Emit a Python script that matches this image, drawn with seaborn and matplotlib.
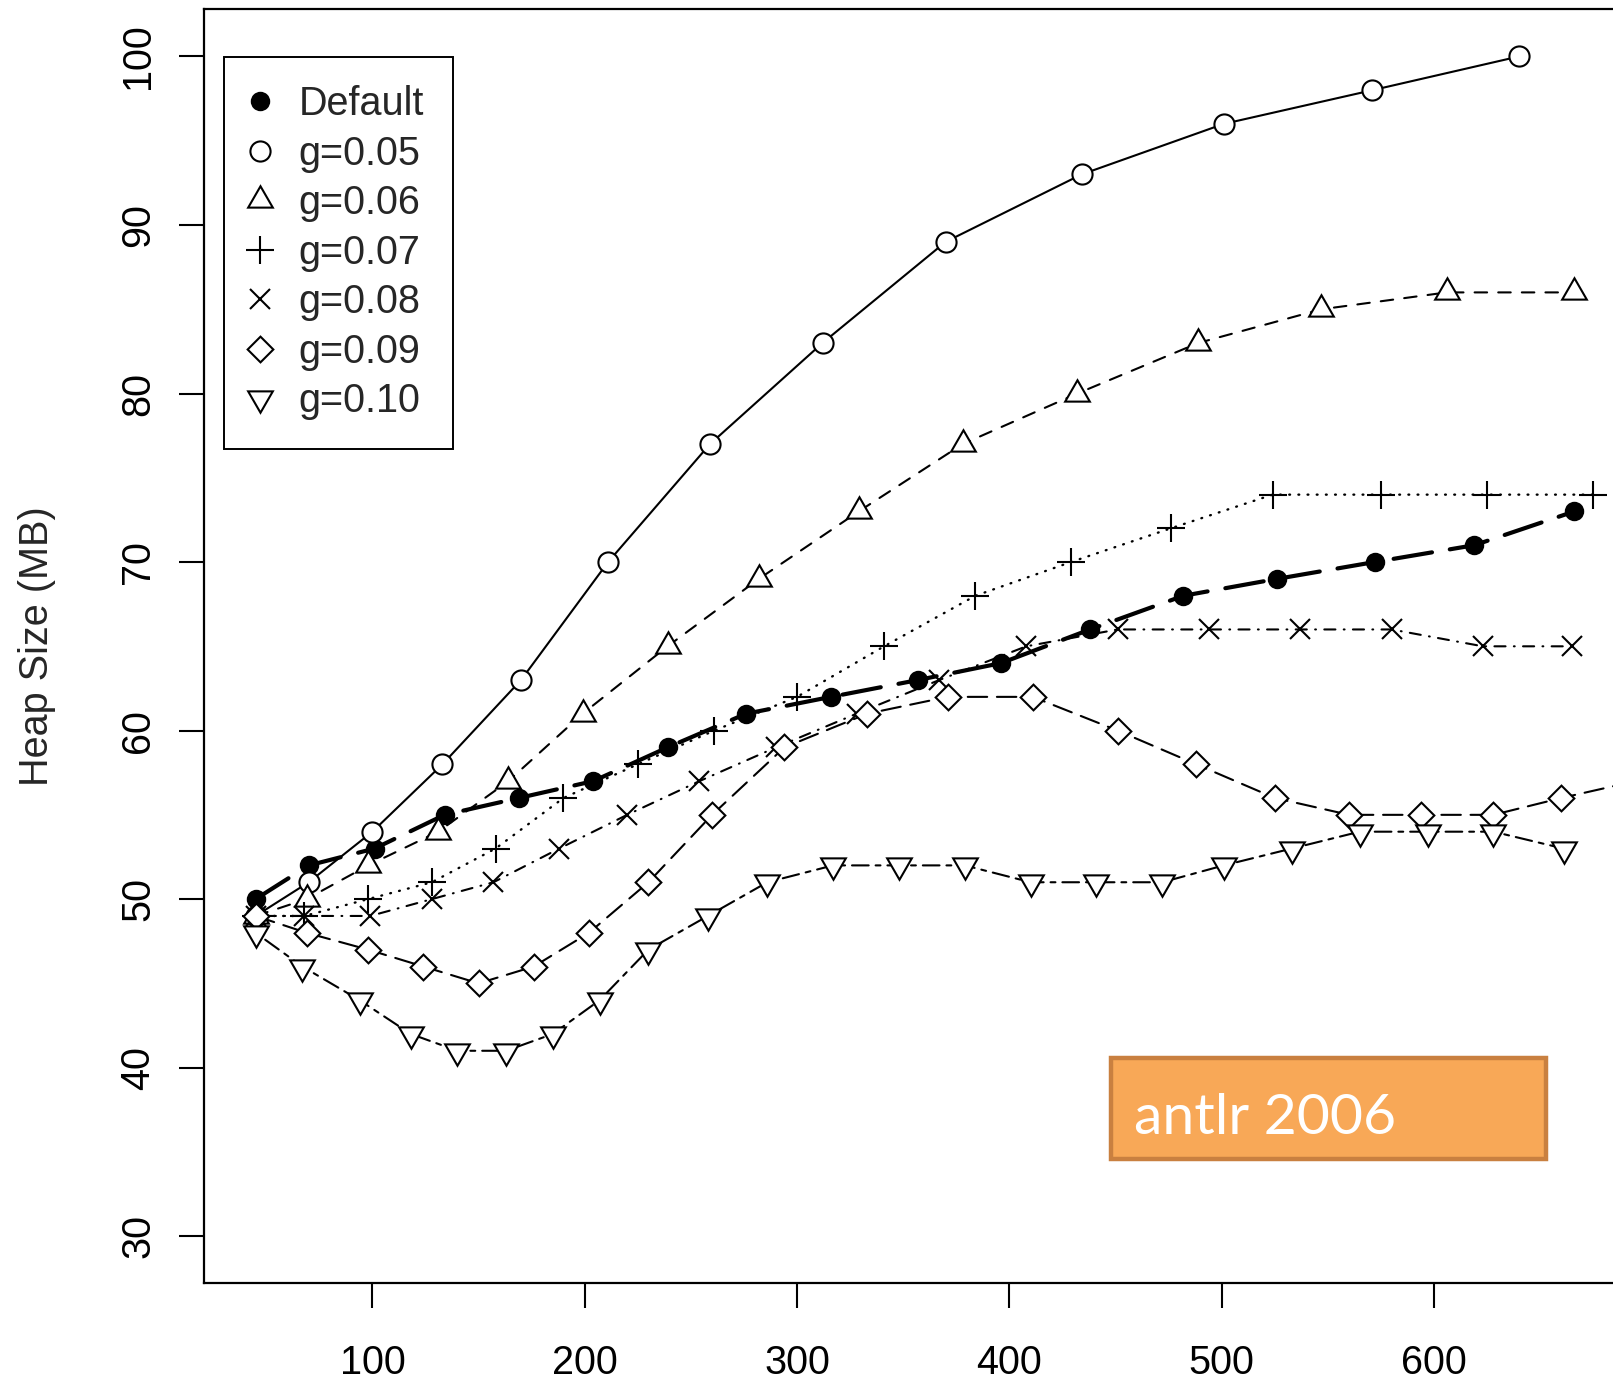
import numpy as np
import pandas as pd
import matplotlib
matplotlib.use("Agg")
import matplotlib.pyplot as plt
import seaborn as sns
from matplotlib.lines import Line2D
from matplotlib.patches import Rectangle

# values
default_x = [45, 70, 101, 134, 169, 204, 239, 276, 316, 357, 396, 438, 482, 526, 572, 619, 666]
default_y = [50, 52, 53, 55, 56, 57, 59, 61, 62, 63, 64, 66, 68, 69, 70, 71, 73]

g05_x = [45, 70, 100, 133, 170, 211, 259, 312, 370, 434, 501, 571, 640]
g05_y = [49, 51, 54, 58, 63, 70, 77, 83, 89, 93, 96, 98, 100]

g06_x = [45, 69, 98, 131, 164, 199, 239, 282, 329, 378, 432, 489, 547, 606, 666]
g06_y = [49, 50, 52, 54, 57, 61, 65, 69, 73, 77, 80, 83, 85, 86, 86]

g07_x = [45, 68, 98, 128, 158, 190, 225, 261, 300, 341, 384, 429, 476, 524, 575, 625, 675]
g07_y = [49, 49, 50, 51, 53, 56, 58, 60, 62, 65, 68, 70, 72, 74, 74, 74, 74]

g08_x = [45, 68, 99, 128, 157, 188, 220, 254, 290, 328, 367, 408, 451, 494, 537, 580, 623, 665]
g08_y = [49, 49, 49, 50, 51, 53, 55, 57, 59, 61, 63, 65, 66, 66, 66, 66, 65, 65]

g09_x = [45, 69, 98, 124, 150, 176, 202, 230, 260, 294, 333, 371, 411, 451, 488, 525, 560, 594, 628, 660, 695]
g09_y = [49, 48, 47, 46, 45, 46, 48, 51, 55, 59, 61, 62, 62, 60, 58, 56, 55, 55, 55, 56, 57]

g10_x = [45, 67, 94, 118, 140, 163, 185, 207, 230, 258, 286, 317, 348, 379, 410, 441, 472, 501, 533, 565, 597, 628, 661]
g10_y = [48, 46, 44, 42, 41, 41, 42, 44, 47, 49, 51, 52, 52, 52, 51, 51, 51, 52, 53, 54, 54, 54, 53]

series_names = ["Default", "g=0.05", "g=0.06", "g=0.07", "g=0.08", "g=0.09", "g=0.10"]
series_x = [default_x, g05_x, g06_x, g07_x, g08_x, g09_x, g10_x]
series_y = [default_y, g05_y, g06_y, g07_y, g08_y, g09_y, g10_y]

x_ticks = [100, 200, 300, 400, 500, 600]
y_ticks = [30, 40, 50, 60, 70, 80, 90, 100]

# R style line types / plotting symbols
styles = {
    "Default": dict(ls=(0, (28, 13)), lw=3.0, marker="o", ms=12.5, mfc="black"),
    "g=0.05": dict(ls="-", lw=1.5, marker="o", ms=14.5, mfc="white"),
    "g=0.06": dict(ls=(0, (9, 8)), lw=1.5, marker=(3, 0, 0), ms=20.5, mfc="white"),
    "g=0.07": dict(ls=(0, (0.6, 6)), lw=1.7, marker="+", ms=19.5, mfc="white"),
    "g=0.08": dict(ls=(0, (0.6, 6, 8, 6)), lw=1.5, marker="x", ms=14.5, mfc="white"),
    "g=0.09": dict(ls=(0, (14, 7)), lw=1.5, marker=(4, 0, 0), ms=18.5, mfc="white"),
    "g=0.10": dict(ls=(0, (3.5, 5, 12, 5)), lw=1.5, marker=(3, 0, 180), ms=20.5, mfc="white"),
}

sns.set_style("white")
plt.rcParams["font.family"] = ["Liberation Sans", "DejaVu Sans"]
plt.rcParams["lines.scale_dashes"] = False

fig = plt.figure(figsize=(16.13, 13.85), dpi=100)
ax = fig.add_axes([0.1263, 0.0734, 0.8737, 0.9199])

for name, xs, ys in zip(series_names, series_x, series_y):
    st = styles[name]
    sns.lineplot(x=xs, y=ys, ax=ax, color="black", linestyle=st["ls"], linewidth=st["lw"],
                 marker=st["marker"], markersize=st["ms"], markerfacecolor=st["mfc"],
                 markeredgecolor="black", markeredgewidth=1.5, dash_capstyle="round",
                 estimator=None, sort=False, legend=False)

ax.set_xlim(20.55, 684.3)
ax.set_ylim(27.2, 102.8)
ax.set_xticks(x_ticks)
ax.set_yticks(y_ticks)
ax.set_xlabel("")
ax.set_ylabel("Heap Size (MB)", fontsize=28.5)
ax.yaxis.set_label_coords(-0.105, 0.5)

ax.tick_params(direction="out", length=18, width=1.5, labelsize=28.5, colors="black",
               bottom=True, left=True)
ax.tick_params(axis="x", pad=26)
ax.tick_params(axis="y", pad=15.5, labelrotation=90)
for lbl in ax.get_yticklabels():
    lbl.set_va("center")

for side in ["left", "bottom", "top"]:
    ax.spines[side].set_color("black")
    ax.spines[side].set_linewidth(1.6)
ax.spines["right"].set_visible(False)

handles = [Line2D([], [], linestyle="none", marker=styles[n]["marker"], markersize=styles[n]["ms"],
                  markerfacecolor=styles[n]["mfc"], markeredgecolor="black",
                  markeredgewidth=1.5, color="black") for n in series_names]
leg = ax.legend(handles, series_names, loc="upper left", bbox_to_anchor=(0.1389, 0.9591),
                bbox_transform=fig.transFigure, borderaxespad=0, frameon=True, fancybox=False,
                fontsize=28.5, handlelength=0.4, handletextpad=0.77, borderpad=0.72,
                labelspacing=0.29, edgecolor="black", framealpha=1)
leg.get_frame().set_linewidth(1.4)

# orange dataset tag
fig.patches.append(Rectangle((0.6885, 0.1632), 0.2699, 0.0727, transform=fig.transFigure,
                             facecolor="#F8A857", edgecolor="#C98040", linewidth=3.2))
fig.text(0.7029, 0.1812, "antlr 2006", color="white", fontsize=41, family="Lato",
         ha="left", va="baseline")

fig.savefig("out.png", dpi=100)
